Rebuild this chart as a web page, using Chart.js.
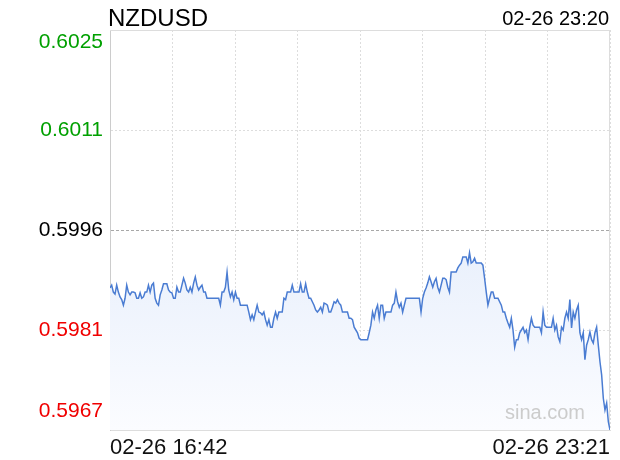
<!DOCTYPE html>
<html>
<head>
<meta charset="utf-8">
<script src="https://cdn.jsdelivr.net/npm/chart.js@4"></script>
<style>
  html, body { margin: 0; padding: 0; background: #fff; }
</style>
</head>
<body>
<canvas id="fxChart" width="620" height="460"></canvas>
<script>
// Quote info
const symbol = 'NZDUSD';
const quoteTime = '02-26 23:20';
const watermark = 'sina.com';

// Axis ticks
const xTickLabels = ['02-26 16:42', '02-26 23:21'];
const yTickValues = [0.60250, 0.60105, 0.59960, 0.59815, 0.59670];
const yTickLabels = ['0.6025', '0.6011', '0.5996', '0.5981', '0.5967'];

// Intraday prices, evenly spaced samples from 16:42 to 23:21
const prices = [
  0.59876, 0.59880, 0.59870, 0.59867, 0.59880, 0.59870, 0.59863, 0.59859, 0.59851, 0.59861,
  0.59880, 0.59870, 0.59866, 0.59870, 0.59870, 0.59869, 0.59861, 0.59861, 0.59869, 0.59861,
  0.59863, 0.59870, 0.59870, 0.59880, 0.59870, 0.59880, 0.59883, 0.59861, 0.59854, 0.59851,
  0.59866, 0.59873, 0.59882, 0.59882, 0.59882, 0.59873, 0.59870, 0.59869, 0.59861, 0.59861,
  0.59877, 0.59870, 0.59870, 0.59880, 0.59890, 0.59883, 0.59873, 0.59870, 0.59877, 0.59870,
  0.59883, 0.59892, 0.59880, 0.59873, 0.59877, 0.59880, 0.59870, 0.59870, 0.59861, 0.59861,
  0.59861, 0.59861, 0.59861, 0.59861, 0.59861, 0.59861, 0.59851, 0.59870, 0.59870, 0.59877,
  0.59899, 0.59873, 0.59863, 0.59870, 0.59859, 0.59870, 0.59861, 0.59861, 0.59851, 0.59851,
  0.59851, 0.59851, 0.59851, 0.59841, 0.59830, 0.59837, 0.59830, 0.59841, 0.59851, 0.59841,
  0.59840, 0.59837, 0.59841, 0.59830, 0.59822, 0.59830, 0.59819, 0.59819, 0.59832, 0.59841,
  0.59832, 0.59841, 0.59841, 0.59841, 0.59861, 0.59859, 0.59870, 0.59870, 0.59870, 0.59880,
  0.59870, 0.59870, 0.59870, 0.59870, 0.59882, 0.59870, 0.59870, 0.59882, 0.59870, 0.59861,
  0.59861, 0.59856, 0.59851, 0.59844, 0.59841, 0.59844, 0.59848, 0.59841, 0.59854, 0.59853,
  0.59851, 0.59841, 0.59841, 0.59848, 0.59856, 0.59854, 0.59859, 0.59854, 0.59851, 0.59841,
  0.59841, 0.59841, 0.59841, 0.59832, 0.59832, 0.59830, 0.59819, 0.59815, 0.59811, 0.59803,
  0.59801, 0.59801, 0.59801, 0.59801, 0.59801, 0.59811, 0.59822, 0.59841, 0.59832, 0.59844,
  0.59851, 0.59832, 0.59851, 0.59851, 0.59832, 0.59841, 0.59841, 0.59841, 0.59841, 0.59851,
  0.59854, 0.59870, 0.59856, 0.59848, 0.59854, 0.59841, 0.59851, 0.59861, 0.59861, 0.59861,
  0.59861, 0.59861, 0.59861, 0.59861, 0.59861, 0.59861, 0.59841, 0.59861, 0.59870, 0.59876,
  0.59883, 0.59892, 0.59885, 0.59877, 0.59885, 0.59890, 0.59877, 0.59870, 0.59880, 0.59890,
  0.59890, 0.59888, 0.59877, 0.59870, 0.59899, 0.59899, 0.59899, 0.59899, 0.59905, 0.59909,
  0.59912, 0.59921, 0.59921, 0.59921, 0.59912, 0.59927, 0.59912, 0.59914, 0.59919, 0.59912,
  0.59912, 0.59912, 0.59912, 0.59909, 0.59890, 0.59870, 0.59851, 0.59861, 0.59870, 0.59870,
  0.59861, 0.59861, 0.59861, 0.59856, 0.59851, 0.59841, 0.59841, 0.59832, 0.59825, 0.59819,
  0.59832, 0.59815, 0.59790, 0.59801, 0.59801, 0.59811, 0.59815, 0.59819, 0.59811, 0.59815,
  0.59801, 0.59819, 0.59832, 0.59822, 0.59819, 0.59819, 0.59819, 0.59819, 0.59811, 0.59841,
  0.59822, 0.59819, 0.59819, 0.59819, 0.59819, 0.59832, 0.59815, 0.59822, 0.59805, 0.59798,
  0.59819, 0.59815, 0.59832, 0.59841, 0.59832, 0.59859, 0.59818, 0.59841, 0.59832, 0.59844,
  0.59851, 0.59811, 0.59801, 0.59811, 0.59772, 0.59793, 0.59801, 0.59812, 0.59801, 0.59796,
  0.59811, 0.59819, 0.59793, 0.59769, 0.59750, 0.59716, 0.59699, 0.59709, 0.59682, 0.59670
];

const FONT = "'Liberation Sans', Arial, sans-serif";

// Frame on top/right, header texts and watermark
const decorations = {
  id: 'decorations',
  beforeDatasetsDraw(chart) {
    const { ctx, chartArea: a } = chart;
    ctx.save();
    ctx.strokeStyle = '#dddddd';
    ctx.lineWidth = 1;
    ctx.beginPath();
    ctx.moveTo(a.left, a.top + 0.5);
    ctx.lineTo(a.right, a.top + 0.5);
    ctx.moveTo(a.right - 0.5, a.top);
    ctx.lineTo(a.right - 0.5, a.bottom);
    ctx.stroke();
    ctx.restore();
  },
  afterDatasetsDraw(chart) {
    const { ctx, chartArea: a } = chart;
    ctx.save();
    ctx.fillStyle = '#cccccc';
    ctx.font = '20px ' + FONT;
    ctx.textAlign = 'right';
    ctx.textBaseline = 'alphabetic';
    ctx.fillText(watermark, a.right - 25, a.bottom - 11);
    ctx.restore();
  },
  afterDraw(chart) {
    const { ctx, chartArea: a } = chart;
    ctx.save();
    ctx.fillStyle = '#000000';
    ctx.textBaseline = 'alphabetic';
    ctx.font = '24px ' + FONT;
    ctx.textAlign = 'left';
    ctx.fillText(symbol, a.left - 2, 26);
    ctx.font = '20px ' + FONT;
    ctx.textAlign = 'right';
    ctx.fillText(quoteTime, a.right - 1, 25);
    ctx.restore();
  }
};

new Chart(document.getElementById('fxChart'), {
  type: 'line',
  data: {
    datasets: [{
      data: prices.map((p, i) => ({ x: i, y: p })),
      borderColor: '#4a7cd2',
      borderWidth: 1.5,
      pointRadius: 0,
      tension: 0,
      fill: 'start',
      backgroundColor: c => {
        const a = c.chart.chartArea;
        if (!a) return 'rgba(0,0,0,0)';
        const g = c.chart.ctx.createLinearGradient(0, a.top, 0, a.bottom);
        g.addColorStop(0, '#d4e2f8');
        g.addColorStop(1, '#fbfcff');
        return g;
      }
    }]
  },
  options: {
    responsive: false,
    devicePixelRatio: 1,
    animation: false,
    layout: { padding: { top: 30, right: 10, left: 0, bottom: 0 } },
    plugins: {
      legend: { display: false },
      tooltip: { enabled: false }
    },
    scales: {
      x: {
        type: 'linear',
        min: 0,
        max: prices.length - 1,
        afterBuildTicks: s => {
          s.ticks = Array.from({ length: 9 }, (_, i) => ({ value: (prices.length - 1) * i / 8 }));
        },
        afterFit: s => {
          s.height = 30;
          s.paddingLeft = 0;
          s.paddingRight = 0;
        },
        grid: {
          color: c => c.index === 0 ? 'rgba(0,0,0,0)' : '#dddddd',
          drawTicks: false
        },
        border: { color: '#dddddd', dash: [2, 2] },
        ticks: {
          align: 'inner',
          autoSkip: false,
          maxRotation: 0,
          padding: 5,
          color: '#111111',
          font: { family: FONT, size: 22 },
          callback: (v, i, arr) => i === 0 ? xTickLabels[0] : (i === arr.length - 1 ? xTickLabels[1] : '')
        }
      },
      y: {
        min: yTickValues[yTickValues.length - 1],
        max: yTickValues[0],
        afterBuildTicks: s => { s.ticks = yTickValues.map(v => ({ value: v })); },
        afterFit: s => {
          s.width = 110;
          s.paddingTop = 0;
          s.paddingBottom = 0;
        },
        grid: {
          color: c => c.index === 2 ? '#a8a8a8' : '#dddddd',
          drawTicks: false
        },
        border: { color: '#cccccc', dash: c => c.index === 2 ? [3, 2] : [2, 2] },
        ticks: {
          padding: 7,
          color: c => c.index < 2 ? '#00a000' : (c.index === 2 ? '#000000' : '#f00000'),
          font: c => ({ family: FONT, size: 21, lineHeight: c.index === 4 ? 1.8 : 1.2 }),
          callback: (v, i) => {
            // nudge the edge labels inside the plot like the original
            const label = yTickLabels[i];
            if (i === 0) return ['', label];
            if (i === yTickLabels.length - 1) return [label, ''];
            return label;
          }
        }
      }
    }
  },
  plugins: [decorations]
});
</script>
</body>
</html>
